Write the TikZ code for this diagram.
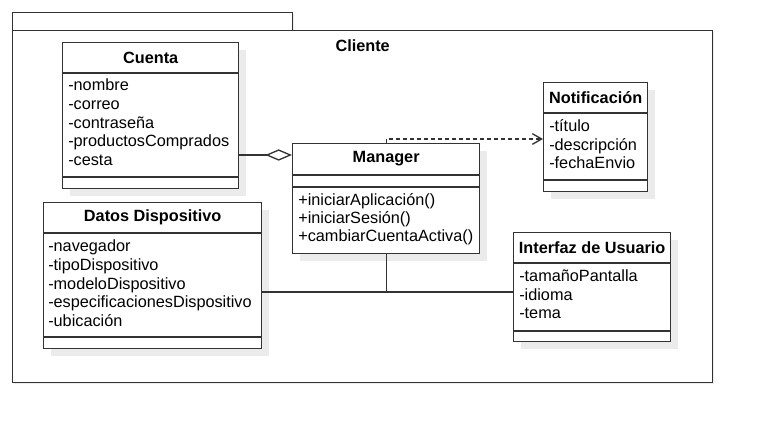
\documentclass[tikz,border=0pt]{standalone}
\usepackage{fontspec}
\setmainfont{Liberation Sans}
\usetikzlibrary{arrows.meta,calc}
\definecolor{ln}{HTML}{333333}
\definecolor{shd}{HTML}{EBEBEB}
\tikzset{
  cls/.style={draw=ln, line width=1pt, fill=white, inner sep=0pt, anchor=north west},
  shadowbox/.style={fill=shd, draw=none, inner sep=0pt, anchor=north west},
  ttl/.style={font=\fontsize{12.2}{14}\selectfont\bfseries, inner sep=0pt},
  attr/.style={font=\fontsize{12.2}{14}\selectfont, inner sep=0pt, anchor=west, text height=8.5pt, text depth=2.5pt},
  sepline/.style={draw=ln, line width=1pt},
  conn/.style={draw=ln, line width=1pt},
}
\newcommand\umlbox[6]{% name, x, y, w, h, shadow offset
  \node[shadowbox, minimum width={#4*0.75pt}, minimum height={#5*0.75pt}] (#1-shadow) at (#2+#6,#3+#6) {};
  \node[cls, minimum width={#4*0.75pt}, minimum height={#5*0.75pt}] (#1) at (#2,#3) {};
}
\begin{document}
\begin{tikzpicture}[x=0.75pt, y=-0.75pt]
\fill[white] (0,0) rectangle (762,432);
\useasboundingbox (0,0) rectangle (762,432);

% package
\umlbox{tab}{12}{12}{280}{18}{2}
\umlbox{cliente}{12}{30}{700}{352}{2}
\node[ttl] (cliente-label) at ($(cliente.north)+(0,16)$) {Cliente};

% classes
\umlbox{cuenta}{62}{42}{176}{146}{8}
\umlbox{manager}{292}{143}{187}{110}{8}
\umlbox{notif}{543}{82}{104}{109}{8}
\umlbox{datos}{43}{202}{218}{146}{8}
\umlbox{interfaz}{513}{232}{157}{109}{8}

% Cuenta
\node[ttl] (cuenta-title) at ($(cuenta.north)+(0,15.5)$) {Cuenta};
\draw[sepline] ($(cuenta.north west)+(0,31)$) -- ($(cuenta.north east)+(0,31)$);
\draw[sepline] ($(cuenta.north west)+(0,135)$) -- ($(cuenta.north east)+(0,135)$);
\foreach \t [count=\i from 0] in {-nombre,-correo,-contraseña,-productosComprados,-cesta}
  \node[attr] (cuenta-a\i) at ($(cuenta.north west)+(6,44.5+18.75*\i)$) {\t};

% Manager
\node[ttl] (manager-title) at ($(manager.north)+(0,16)$) {Manager};
\draw[sepline] ($(manager.north west)+(0,32)$) -- ($(manager.north east)+(0,32)$);
\draw[sepline] ($(manager.north west)+(0,44)$) -- ($(manager.north east)+(0,44)$);
\foreach \t [count=\i from 0] in {+iniciarAplicación(),+iniciarSesión(),+cambiarCuentaActiva()}
  \node[attr] (manager-m\i) at ($(manager.north west)+(6,58.5+18*\i)$) {\t};

% Notificacion
\node[ttl] (notif-title) at ($(notif.north)+(0,15.5)$) {Notificación};
\draw[sepline] ($(notif.north west)+(0,31)$) -- ($(notif.north east)+(0,31)$);
\draw[sepline] ($(notif.north west)+(0,98)$) -- ($(notif.north east)+(0,98)$);
\foreach \t [count=\i from 0] in {-título,-descripción,-fechaEnvio}
  \node[attr] (notif-a\i) at ($(notif.north west)+(6,45.5+18.5*\i)$) {\t};

% Datos Dispositivo
\node[ttl] (datos-title) at ($(datos.north)+(0,15.5)$) {Datos Dispositivo};
\draw[sepline] ($(datos.north west)+(0,31)$) -- ($(datos.north east)+(0,31)$);
\draw[sepline] ($(datos.north west)+(0,135)$) -- ($(datos.north east)+(0,135)$);
\foreach \t [count=\i from 0] in {-navegador,-tipoDispositivo,-modeloDispositivo,-especificacionesDispositivo,-ubicación}
  \node[attr] (datos-a\i) at ($(datos.north west)+(5,45.5+18.75*\i)$) {\t};

% Interfaz de Usuario
\node[ttl] (interfaz-title) at ($(interfaz.north)+(0,15.5)$) {Interfaz de Usuario};
\draw[sepline] ($(interfaz.north west)+(0,31)$) -- ($(interfaz.north east)+(0,31)$);
\draw[sepline] ($(interfaz.north west)+(0,99)$) -- ($(interfaz.north east)+(0,99)$);
\foreach \t [count=\i from 0] in {-tamañoPantalla,-idioma,-tema}
  \node[attr] (interfaz-a\i) at ($(interfaz.north west)+(6,45.5+18.5*\i)$) {\t};

% connectors
\coordinate (aggY) at (0,155);
\draw[conn, -{Diamond[open, fill=white, length=20pt, width=8.5pt, line width=1pt]}]
  (cuenta.east |- aggY) -- (manager.west |- aggY);

\coordinate (depY) at (0,139);
\draw[conn, dash pattern=on 3pt off 2.25pt, -{Straight Barb[length=7pt, width=8pt, line width=1pt]}]
  (manager.north) |- (notif.west |- depY);

\coordinate (junc) at (385.5,292);
\draw[conn] (manager.south) -- (manager.south |- junc);
\draw[conn] (datos.east |- junc) -- (interfaz.west |- junc);
\end{tikzpicture}
\end{document}
